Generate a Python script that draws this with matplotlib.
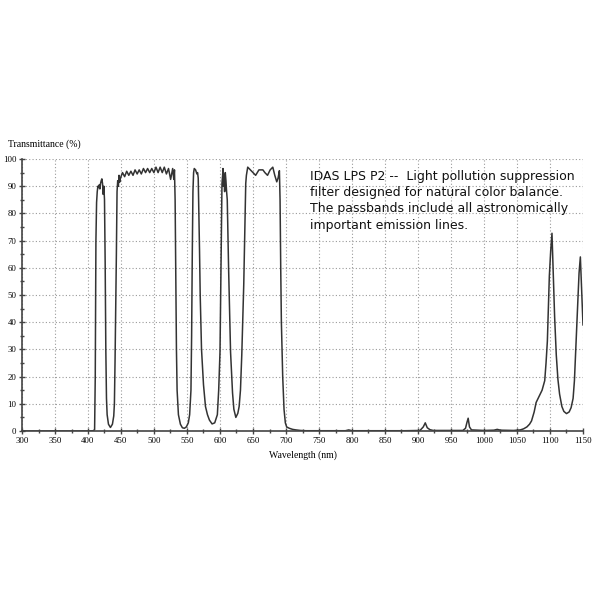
import matplotlib.pyplot as plt
import numpy as np
from matplotlib.ticker import MultipleLocator

# transmittance curve, rows of 10 kept aligned
wavelength_nm = [
    300, 400, 408, 410, 411, 412, 413, 414, 415, 416,
    417, 418, 419, 420, 421, 422, 423, 424, 425, 426,
    427, 428, 429, 431, 434, 437, 439, 440, 441, 442,
    443, 444, 445, 446, 447, 448, 449.2, 452.3, 455.5, 458.6,
    461.8, 465, 468.2, 471.3, 474.5, 477.6, 480.8, 484, 487.2, 490.3,
    493.5, 496.6, 499.8, 503, 506.2, 509.3, 512.5, 515.6, 518.8, 522,
    525.2, 528.3, 530, 531, 532, 533, 534, 535, 537, 540,
    543, 546, 549, 552, 554, 556, 557, 558, 559, 560,
    561, 563, 565, 566, 567, 568, 569, 570, 572, 575,
    578, 581, 584, 588, 592, 596, 598, 600, 602, 603,
    604, 604.5, 605, 606, 607, 608, 609, 610, 611, 613,
    616, 619, 621, 624, 627, 629, 631, 633, 635, 636,
    638, 639, 640, 642, 648, 654, 659, 665, 668, 672,
    676, 680, 683, 686, 688, 690, 691, 692, 693, 695,
    697, 699, 701, 705, 710, 715, 722, 730, 790, 795,
    800, 880, 903, 908, 911, 914, 918, 923, 968, 972,
    974, 976, 978, 981, 1000, 1015, 1020, 1025, 1045, 1055,
    1060, 1065, 1069, 1072, 1076, 1079, 1084, 1088, 1092, 1094,
    1096, 1097, 1099, 1101, 1103, 1104, 1105.5, 1107, 1109.5, 1112,
    1114.5, 1118, 1121, 1125, 1129, 1132, 1135, 1137, 1139, 1142,
    1144, 1146, 1147.5, 1149, 1150,
]
transmittance_pct = [
    0, 0, 0.1, 0.5, 20, 70, 84, 88, 90, 89.5,
    90.5, 89, 91, 92, 92.7, 91, 87, 90, 85, 62,
    30, 12, 6, 2.5, 1.3, 2.5, 5.5, 10, 26, 45,
    65, 88, 92, 90, 94, 91.5, 93, 95, 93.5, 95.5,
    94, 95.5, 94, 96, 94.5, 96, 94.5, 96.5, 95, 96.5,
    95, 96.5, 95, 97, 95, 97, 95, 97, 94.5, 96.5,
    92.5, 96.5, 92.5, 96, 85, 55, 30, 15, 6, 2.5,
    1.2, 1, 1.5, 3, 6, 15, 35, 65, 88, 95,
    96.5, 96, 94.5, 95, 93, 80, 66, 50, 30, 17,
    9, 6, 4, 2.6, 3, 6, 15, 29, 70, 91,
    94, 96.5, 90, 94, 88, 95, 92, 88, 85, 60,
    29, 14, 8, 5, 6.5, 9, 15, 28, 45, 54,
    80, 91, 94, 97, 95.5, 94, 96, 96, 95, 94,
    96, 97, 94, 91.6, 93, 95.7, 85, 60, 40, 20,
    8, 3, 1.5, 1, 0.6, 0.4, 0.2, 0.1, 0.1, 0.4,
    0.1, 0.1, 0.2, 1.5, 3, 1.2, 0.5, 0.2, 0.2, 1,
    3, 4.7, 1.5, 0.4, 0.2, 0.3, 0.6, 0.3, 0.2, 0.4,
    0.8, 1.5, 2.5, 3.7, 7, 10.5, 13, 15, 18.5, 25,
    33, 40.6, 57, 66, 72.7, 65, 53, 42, 28, 19,
    13.6, 9, 7.2, 6.4, 7, 8.6, 12, 18.5, 30, 47,
    58, 64, 55, 45, 39,
]

x_ticks = list(range(300, 1151, 50))
y_ticks = list(range(0, 101, 10))

note = ("IDAS LPS P2 --  Light pollution suppression\n"
        "filter designed for natural color balance.\n"
        "The passbands include all astronomically\n"
        "important emission lines.")

fig = plt.figure(figsize=(6, 6), dpi=100)
ax = fig.add_axes([22 / 600, 1 - 431 / 600, 561 / 600, 272 / 600])

ax.plot(wavelength_nm, transmittance_pct, color='#333333', lw=1.1)

ax.set_xlim(300, 1150)
ax.set_ylim(0, 100)
ax.set_xticks(x_ticks)
ax.set_yticks(y_ticks)
ax.xaxis.set_minor_locator(MultipleLocator(25))
ax.yaxis.set_minor_locator(MultipleLocator(5))
ax.grid(True, which='major', color='#9a9a9a', linestyle=(0, (1, 2)), linewidth=0.8)

for s in ['top', 'right']:
    ax.spines[s].set_visible(False)
for s in ['left', 'bottom']:
    ax.spines[s].set_color('#444444')
    ax.spines[s].set_linewidth(1.2)

ax.tick_params(which='major', direction='inout', length=4, width=1, color='#444444',
               labelsize=6.3, pad=2)
ax.tick_params(which='minor', direction='inout', length=3, width=1, color='#444444')
for lab in ax.get_xticklabels() + ax.get_yticklabels():
    lab.set_family('Liberation Serif')

fig.text(8 / 600, 1 - 144 / 600, 'Transmittance (%)', family='Liberation Serif',
         fontsize=7, va='center', ha='left')
ax.set_xlabel('Wavelength (nm)', family='Liberation Serif', fontsize=7, labelpad=4)

ax.text(310 / 600, 1 - 170 / 600, note, transform=fig.transFigure, family='DejaVu Sans',
        fontsize=9, va='top', ha='left', linespacing=1.32, color='#111111')

fig.savefig('out.png', dpi=100, facecolor='white')
